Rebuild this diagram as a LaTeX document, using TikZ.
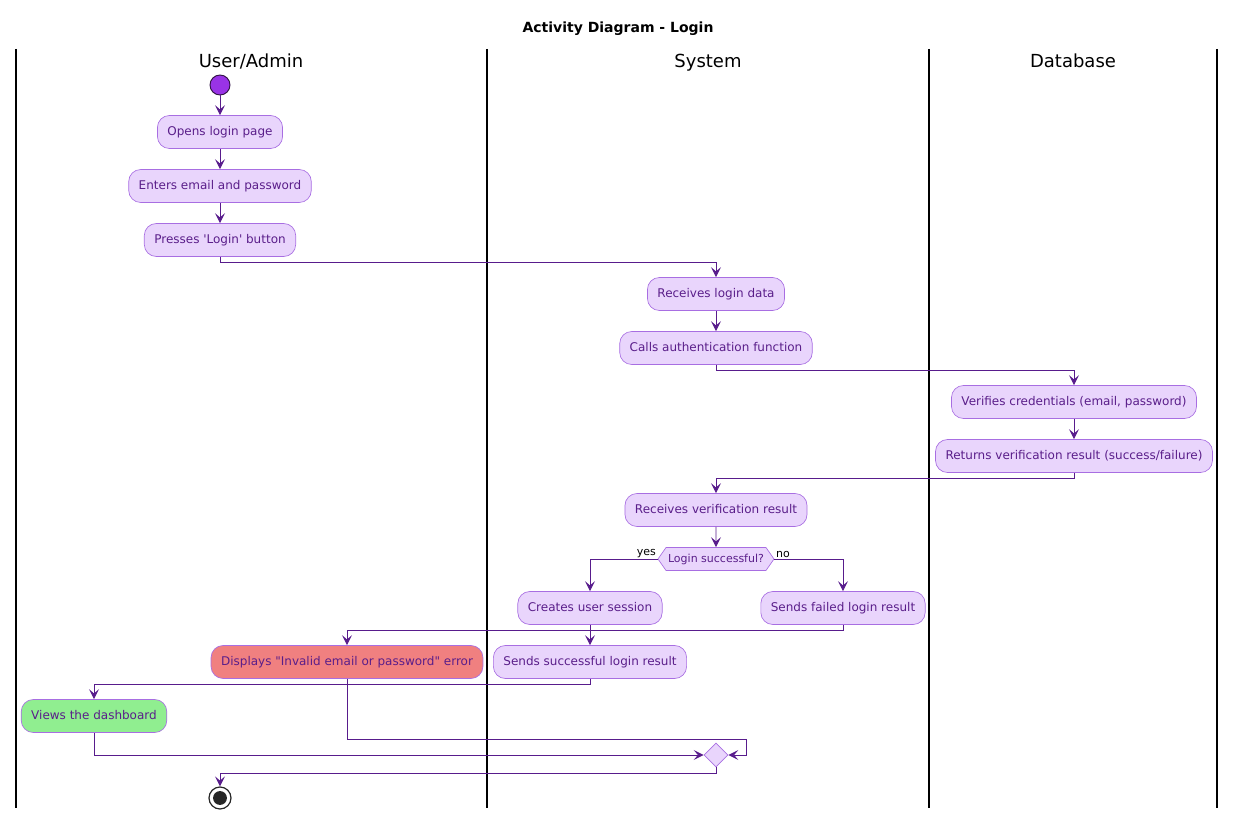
\documentclass[tikz,border=0pt]{standalone}
\usepackage{fontspec}
\setmainfont{DejaVu Sans}[Ligatures=TeXOff]
\usetikzlibrary{arrows.meta,shapes.symbols,shapes.geometric}

\definecolor{flowline}{RGB}{88,28,140}
\definecolor{actfill}{RGB}{233,213,252}
\definecolor{actborder}{RGB}{168,110,226}
\definecolor{acttext}{RGB}{90,30,138}
\definecolor{startfill}{RGB}{153,51,230}
\definecolor{startborder}{RGB}{50,20,70}
\definecolor{errfill}{RGB}{240,128,128}
\definecolor{okfill}{RGB}{144,238,144}

\begin{document}
\begin{tikzpicture}[x=0.75pt,y=-0.75pt,
  act/.style={draw=actborder, fill=actfill, rounded corners=9pt,
    minimum height=24.75pt, inner xsep=7.5pt, inner ysep=0pt,
    text height=7pt, text depth=1.2pt,
    text=acttext, font=\fontsize{9}{11}\selectfont, line width=0.5pt},
  flow/.style={draw=flowline, line width=0.7pt,
    -{Stealth[length=7.5pt,width=7.5pt,inset=3.2pt]}},
  lane/.style={draw=black, line width=1.3pt},
  lanehead/.style={font=\fontsize{13.5}{16}\selectfont, anchor=base},
  decision/.style={signal, signal to=west and east, signal pointer angle=110,
    draw=actborder, fill=actfill, minimum height=17.25pt, inner xsep=1.5pt,
    inner ysep=0pt, text=acttext, font=\fontsize{8.25}{10}\selectfont, line width=0.5pt},
  merge/.style={diamond, draw=actborder, fill=actfill, minimum width=18pt,
    minimum height=18pt, inner sep=0pt, line width=0.5pt},
  guard/.style={font=\fontsize{8.25}{10}\selectfont, inner sep=1pt}]

\useasboundingbox (0,0) rectangle (1236,820);

% title
\node[font=\bfseries\fontsize{10.5}{13}\selectfont, anchor=base] (title) at (618,33) {Activity Diagram - Login};

% swimlanes
\draw[lane] (16,49) -- (16,808);
\draw[lane] (487,49) -- (487,808);
\draw[lane] (929,49) -- (929,808);
\draw[lane] (1217,49) -- (1217,808);
\node[lanehead] (laneuser) at (251,68) {User/Admin};
\node[lanehead] (lanesys) at (708,68) {System};
\node[lanehead] (lanedb) at (1073,68) {Database};

% start / stop
\node[circle, fill=startfill, draw=startborder, line width=0.7pt,
  minimum size=15pt, inner sep=0pt] (start) at (220,85) {};
\node[circle, fill=white, draw=black!85, line width=0.9pt,
  minimum size=16.5pt, inner sep=0pt] (stop) at (220,798) {};
\fill[black!85] (stop.center) circle (5.2pt);

% activities
\node[act] (open) at (220,132) {Opens login page};
\node[act] (enter) at (220,186) {Enters email and password};
\node[act] (press) at (220,240) {Presses 'Login' button};
\node[act] (recv) at (716,294) {Receives login data};
\node[act] (auth) at (716,348) {Calls authentication function};
\node[act] (verify) at (1074,402) {Verifies credentials (email, password)};
\node[act] (ret) at (1074,456) {Returns verification result (success/failure)};
\node[act] (recvres) at (716,510) {Receives verification result};
\node[decision] (dec) at (716,559) {Login successful?};
\node[act] (session) at (590,608) {Creates user session};
\node[act] (failed) at (843,608) {Sends failed login result};
\node[act] (success) at (590,662) {Sends successful login result};
\node[act, fill=errfill] (err) at (347,662) {Displays "Invalid email or password" error};
\node[act, fill=okfill] (dash) at (94,716) {Views the dashboard};
\node[merge] (join) at (716,755) {};
\coordinate (loopback) at (746,739);

% guards
\node[guard, anchor=south east] (yes) at (dec.west) {yes};
\node[guard, anchor=south west] (no) at (dec.east) {no};

% flows
\draw[flow] (start) -- (open);
\draw[flow] (open) -- (enter);
\draw[flow] (enter) -- (press);
\draw[flow] (press.south) -- ++(0,6) -| (recv.north);
\draw[flow] (recv) -- (auth);
\draw[flow] (auth.south) -- ++(0,6) -| (verify.north);
\draw[flow] (verify) -- (ret);
\draw[flow] (ret.south) -- ++(0,6) -| (recvres.north);
\draw[flow] (recvres) -- (dec);
\draw[flow] (dec.west) -| (session.north);
\draw[flow] (dec.east) -| (failed.north);
\draw[flow] (session) -- (success);
\draw[flow] (failed.south) -- ++(0,6) -| (err.north);
\draw[flow] (success.south) -- ++(0,6) -| (dash.north);
\draw[flow] (err.south) |- (loopback) |- (join.east);
\draw[flow] (dash.south) |- (join.west);
\draw[flow] (join.south) -- ++(0,6) -| (stop.north);
\end{tikzpicture}
\end{document}
